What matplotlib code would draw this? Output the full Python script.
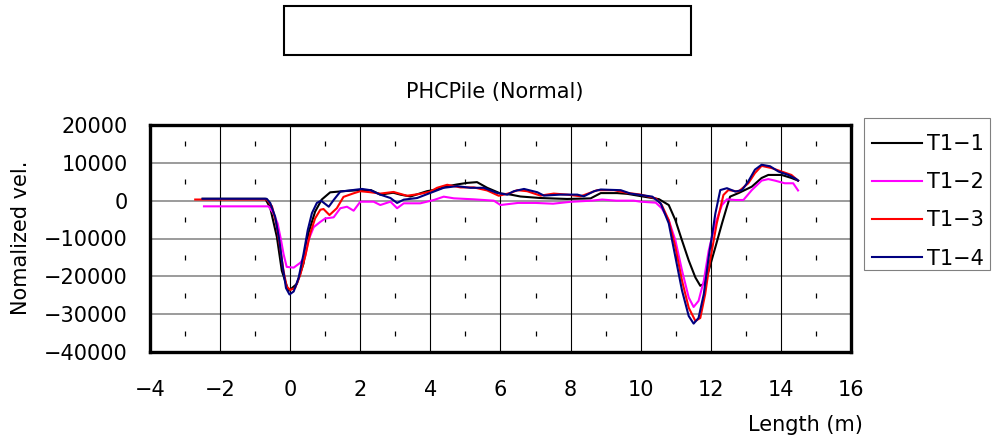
import numpy as np
import matplotlib

matplotlib.use('agg')
import matplotlib.pyplot as plt
from matplotlib.patches import Rectangle

labels = ["T1-1", "T1-2", "T1-3", "T1-4"]
colors = ["#000000", "#ff00ff", "#ff0000", "#000080"]

x_t1_1 = [-2.5, -0.71, -0.57, -0.38, -0.24, -0.05, 0.19, 0.38, 0.52, 0.71, 0.9, 1.14, 1.5,
          2.0, 2.3, 2.57, 2.94, 3.14, 3.43, 3.9, 4.2, 4.48, 4.77, 5.05, 5.33, 5.62, 6.0,
          6.29, 6.57, 7.14, 7.9, 8.57, 8.86, 9.33, 9.62, 10.0, 10.52, 10.8, 10.99, 11.16,
          11.37, 11.56, 11.7, 11.8, 11.94, 12.13, 12.32, 12.46, 12.55, 12.79, 13.17, 13.45,
          13.64, 14.02, 14.3, 14.49]
y_t1_1 = [500, 500, -1900, -9600, -18500, -23900, -22000, -16600, -8600, -2900, 300, 2200, 2500,
          2800, 2800, 1600, 2100, 1600, 1100, 2500, 3000, 3800, 4300, 4700, 4900, 3400, 1900,
          1600, 1100, 700, 450, 600, 2000, 2000, 1800, 1200, 400, -1150, -5150, -10000,
          -15800, -20300, -22500, -22000, -18500, -12300, -6000, -1600, 1070, 2000, 3700, 6000,
          6800, 6800, 6000, 5300]

x_t1_2 = [-2.46, -0.62, -0.48, -0.36, -0.26, -0.19, -0.1, 0.1, 0.29, 0.43, 0.52, 0.67, 0.86,
          1.0, 1.24, 1.43, 1.62, 1.81, 2.0, 2.38, 2.57, 2.86, 3.05, 3.24, 3.71, 4.1, 4.38,
          4.67, 5.24, 5.81, 6.0, 6.5, 7.0, 7.5, 8.0, 8.6, 8.9, 9.3, 9.8, 10.0, 10.43, 10.6,
          10.8, 10.99, 11.18, 11.37, 11.51, 11.65, 11.8, 11.94, 12.13, 12.32, 12.46, 12.7,
          12.93, 13.17, 13.45, 13.64, 13.83, 14.11, 14.35, 14.49]
y_t1_2 = [-1500, -1500, -3300, -6000, -10500, -14100, -17500, -17700, -16400, -14600, -10500,
          -7000, -5600, -4700, -4400, -2000, -1600, -2650, -270, -270, -1150, -270, -2000,
          -700, -700, 180, 1060, 620, 350, 0, -1150, -600, -600, -800, -300, 0, 300, 0, 0,
          -270, -530, -2000, -5150, -10500, -18500, -25600, -28100, -26500, -21200, -13200,
          -6000, -1150, 360, 180, 180, 2800, 5300, 5700, 5300, 4600, 4600, 2700]

x_t1_3 = [-2.71, -0.67, -0.52, -0.4, -0.29, -0.19, -0.1, 0.0, 0.14, 0.29, 0.43, 0.57, 0.71,
          0.86, 0.95, 1.12, 1.33, 1.52, 1.81, 2.0, 2.29, 2.57, 2.95, 3.33, 3.71, 4.0, 4.19,
          4.48, 4.86, 5.24, 5.62, 5.95, 6.29, 6.48, 6.76, 7.14, 7.52, 7.9, 8.29, 8.76, 9.24,
          9.62, 10.0, 10.43, 10.6, 10.8, 10.99, 11.18, 11.37, 11.56, 11.7, 11.84, 11.98,
          12.17, 12.36, 12.5, 12.79, 13.07, 13.26, 13.45, 13.74, 14.02, 14.3, 14.49]
y_t1_3 = [300, 300, -1500, -6000, -12300, -18600, -22700, -23600, -23100, -19500, -14600,
          -8700, -4700, -2400, -2200, -3800, -2000, 1000, 1950, 2500, 2230, 1870, 2300, 1300,
          1800, 2400, 3400, 4200, 3500, 3500, 2700, 1300, 2050, 2770, 2500, 1340, 1870, 1600,
          1160, 2770, 2770, 2050, 1600, 620, -1150, -5150, -12300, -21200, -28300, -31800,
          -31000, -24700, -15800, -6000, 1500, 2800, 2400, 4600, 7300, 9200, 8600, 7700, 6800,
          5300]

x_t1_4 = [-2.5, -0.67, -0.57, -0.43, -0.31, -0.21, -0.12, -0.02, 0.1, 0.24, 0.38, 0.5, 0.62,
          0.76, 0.88, 1.1, 1.24, 1.43, 1.81, 2.05, 2.29, 2.57, 2.86, 3.05, 3.24, 3.62, 4.0,
          4.38, 4.76, 5.14, 5.52, 5.9, 6.19, 6.38, 6.67, 7.05, 7.24, 7.71, 8.19, 8.38, 8.67,
          8.86, 9.43, 9.71, 10.0, 10.33, 10.57, 10.8, 10.99, 11.18, 11.37, 11.51, 11.65,
          11.8, 11.94, 12.13, 12.27, 12.46, 12.7, 12.89, 13.07, 13.26, 13.45, 13.69, 13.93,
          14.21, 14.44, 14.49]
y_t1_4 = [500, 500, -600, -4200, -10500, -17700, -23100, -24800, -24000, -20400, -14100, -7800,
          -3300, -600, 0, -1600, 180, 2400, 2830, 3100, 2770, 1600, 700, -600, 270, 700, 2050,
          3400, 3840, 3400, 3400, 2050, 1600, 2500, 3100, 2230, 1340, 1600, 1600, 1160, 2500,
          2950, 2770, 1870, 1500, 1070, -700, -6000, -14900, -23800, -30500, -32500, -31000,
          -24700, -14900, -3400, 2800, 3300, 2400, 2800, 5100, 8200, 9500, 9100, 7700, 6800,
          5700, 5300]

xs = [x_t1_1, x_t1_2, x_t1_3, x_t1_4]
ys = [y_t1_1, y_t1_2, y_t1_3, y_t1_4]

x_ticks = np.arange(-4, 17, 2)
y_ticks = np.arange(-40000, 20001, 10000)

plt.rcParams['font.family'] = 'DejaVu Sans'
plt.rcParams['font.size'] = 15

fig = plt.figure(figsize=(9.95, 4.45), dpi=100)
ax = fig.add_axes([150 / 995, 93 / 445, 701 / 995, 227 / 445])

for xv, yv, c, lab in zip(xs, ys, colors, labels):
    ax.plot(xv, yv, color=c, lw=1.5, label=lab.replace("-", "\u2212"), zorder=3)

ax.set_xlim(-4, 16)
ax.set_ylim(-40000, 20000)
ax.set_xticks(x_ticks)
ax.set_yticks(y_ticks)
ax.tick_params(length=0)
ax.tick_params(axis='y', pad=16)
ax.tick_params(axis='x', pad=20)

# grid: gray horizontal, black vertical at even x, short dashes at odd x
for yv in y_ticks[1:-1]:
    ax.axhline(yv, color='#808080', lw=1.1, zorder=1)
for xv in x_ticks[1:-1]:
    ax.axvline(xv, color='black', lw=0.8, zorder=1)
odd_x = x_ticks[:-1] + 1
mids = y_ticks[:-1] + 5000
for xv in odd_x:
    ax.vlines([xv] * len(mids), mids - 650, mids + 650, color='black', lw=0.9, zorder=1)

for sp in ax.spines.values():
    sp.set_linewidth(2.4)

fig.text(495 / 995, 1 - 92 / 445, "PHCPile (Normal)", ha='center', va='center')
fig.text(21 / 995, 1 - 238 / 445, "Nomalized vel.", rotation=90, ha='center', va='center')
fig.text(805 / 995, 1 - 425 / 445, "Length (m)", ha='center', va='center')

# empty box above the chart
fig.patches.append(Rectangle((284 / 995, 1 - 55 / 445), 407 / 995, 49 / 445,
                             transform=fig.transFigure, fill=False, ec='black', lw=1.5))

# legend: frame drawn separately so the rows can sit like the original
fig.patches.append(Rectangle((864 / 995, 1 - 270 / 445), 126 / 995, 152 / 445,
                             transform=fig.transFigure, fill=False, ec='#808080', lw=0.8))
fig.legend(loc='upper left', bbox_to_anchor=(872 / 995, 1 - 134 / 445),
           frameon=False, handlelength=2.4, handletextpad=0.25, labelspacing=0.875,
           borderpad=0, borderaxespad=0)

fig.savefig("out.png", dpi=100)
plt.close(fig)
